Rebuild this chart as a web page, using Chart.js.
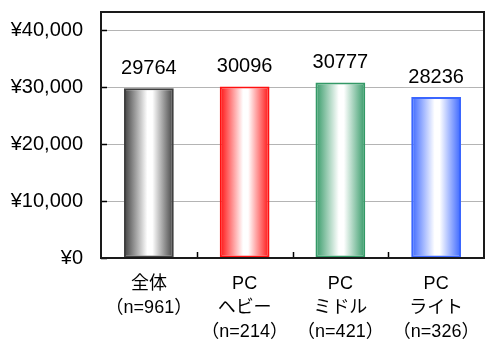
<!DOCTYPE html>
<html>
<head>
<meta charset="utf-8">
<script src="https://cdn.jsdelivr.net/npm/chart.js@4/dist/chart.umd.min.js"></script>
<style>
  html, body { margin: 0; padding: 0; background: #fff; }
  #wrap { width: 485px; height: 346px; position: relative; }
</style>
</head>
<body>
<div id="wrap"><canvas id="c"></canvas></div>
<script>
// Average spending by user segment
const categories = [
  ["全体", "（n=961）"],
  ["PC", "ヘビー", "（n=214）"],
  ["PC", "ミドル", "（n=421）"],
  ["PC", "ライト", "（n=326）"]
];
const values = [29764, 30096, 30777, 28236];
const barColors = ["#404040", "#ff1010", "#339966", "#3a66ff"];
const yTicks = [0, 10000, 20000, 30000, 40000];

const FONT = "'Liberation Sans', 'Noto Sans CJK JP', sans-serif";
const BAR_PCT = 0.52;

// horizontal "cylinder" shading for each bar
function barGradient(c) {
  const chart = c.chart;
  const col = barColors[c.dataIndex];
  const xs = chart.scales.x;
  if (!xs || !chart.chartArea) return col;
  const cx = xs.getPixelForValue(c.dataIndex);
  const w = (xs.width / categories.length) * BAR_PCT;
  const g = chart.ctx.createLinearGradient(cx - w / 2, 0, cx + w / 2, 0);
  g.addColorStop(0, col);
  g.addColorStop(0.47, "#ffffff");
  g.addColorStop(0.57, "#ffffff");
  g.addColorStop(1, col);
  return g;
}

const framePlugin = {
  id: "frame",
  afterDraw(chart) {
    const ctx = chart.ctx;
    const a = chart.chartArea;
    const ys = chart.scales.y, xs = chart.scales.x;
    ctx.save();
    // value labels on white boxes
    const meta = chart.getDatasetMeta(0);
    ctx.font = "20px " + FONT;
    ctx.textAlign = "center";
    ctx.textBaseline = "middle";
    meta.data.forEach((el, i) => {
      const txt = String(values[i]);
      const y = el.y - 21;
      const w = ctx.measureText(txt).width + 10;
      ctx.fillStyle = "#fff";
      ctx.fillRect(el.x - w / 2, y - 11, w, 22);
      ctx.fillStyle = "#000";
      ctx.fillText(txt, el.x, y + 1);
    });
    // inward tick marks
    ctx.strokeStyle = "#000";
    ctx.lineWidth = 1.5;
    ctx.beginPath();
    yTicks.forEach(v => {
      const y = Math.round(ys.getPixelForValue(v)) + 0.5;
      ctx.moveTo(a.left, y);
      ctx.lineTo(a.left + 6, y);
    });
    for (let i = 0; i < categories.length - 1; i++) {
      const x = Math.round((xs.getPixelForValue(i) + xs.getPixelForValue(i + 1)) / 2) + 0.5;
      ctx.moveTo(x, a.bottom);
      ctx.lineTo(x, a.bottom - 6);
    }
    ctx.stroke();
    // plot frame
    ctx.lineWidth = 2;
    ctx.strokeStyle = "#1a1a1a";
    ctx.beginPath();
    ctx.rect(a.left, a.top, a.right - a.left, a.bottom - a.top);
    ctx.stroke();
    ctx.restore();
  }
};

new Chart(document.getElementById("c"), {
  type: "bar",
  data: {
    labels: categories,
    datasets: [{
      data: values,
      backgroundColor: barGradient,
      borderColor: barColors,
      borderWidth: 2,
      borderSkipped: false,
      barPercentage: BAR_PCT,
      categoryPercentage: 1
    }]
  },
  options: {
    responsive: true,
    maintainAspectRatio: false,
    animation: false,
    layout: { padding: { top: 12, right: 1, left: 0, bottom: 0 } },
    plugins: { legend: { display: false }, tooltip: { enabled: false } },
    scales: {
      x: {
        grid: { display: false },
        border: { display: false },
        ticks: {
          color: "#000",
          font: { family: FONT, size: 18, lineHeight: 1.34 },
          padding: 6,
          maxRotation: 0,
          autoSkip: false
        },
        afterFit(s) { s.height = 88; s.paddingLeft = 0; s.paddingRight = 0; }
      },
      y: {
        min: 0,
        max: 43160,
        grid: { color: "#b4b4b4", lineWidth: 1, drawTicks: false },
        border: { display: false },
        afterBuildTicks(s) { s.ticks = yTicks.map(v => ({ value: v })); },
        ticks: {
          color: "#000",
          font: { family: FONT, size: 20 },
          padding: 18,
          callback: v => "¥" + Number(v).toLocaleString("en-US")
        },
        afterFit(s) { s.width = 101; s.paddingTop = 0; s.paddingBottom = 0; }
      }
    }
  },
  plugins: [framePlugin]
});
</script>
</body>
</html>
